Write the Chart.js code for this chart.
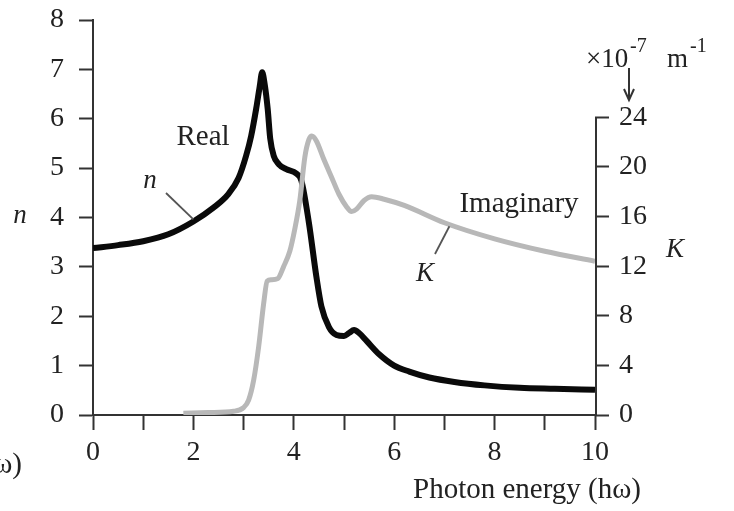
<!DOCTYPE html>
<html><head><meta charset="utf-8">
<script src="https://cdn.jsdelivr.net/npm/chart.js@4/dist/chart.umd.min.js"></script>
<style>html,body{margin:0;padding:0;background:#fff}#wrap{width:734px;height:511px;position:relative}</style>
</head><body><div id="wrap"><canvas id="c" width="734" height="511"></canvas></div>
<script>
// Photon energy (x) for the real part n
const energyN = [0, 0.5, 1, 1.5, 2, 2.4, 2.7, 2.9, 3.05, 3.15, 3.25, 3.32, 3.37, 3.42, 3.48, 3.53, 3.6, 3.7, 3.85, 4.05, 4.15, 4.3, 4.45, 4.55, 4.7, 4.85, 5.0, 5.1, 5.2, 5.3, 5.45, 5.7, 6.0, 6.3, 6.7, 7.2, 7.8, 8.5, 9.2, 10];
const nValues = [3.38, 3.44, 3.52, 3.66, 3.92, 4.2, 4.48, 4.8, 5.25, 5.65, 6.2, 6.65, 6.94, 6.7, 6.2, 5.6, 5.25, 5.08, 4.98, 4.89, 4.75, 3.9, 2.8, 2.2, 1.78, 1.62, 1.6, 1.66, 1.72, 1.66, 1.5, 1.23, 1.0, 0.88, 0.76, 0.67, 0.6, 0.55, 0.53, 0.51];
// Photon energy (x) for the imaginary part K (x10^-7 m^-1)
const energyK = [1.8, 2.3, 2.8, 3.0, 3.1, 3.2, 3.3, 3.4, 3.47, 3.55, 3.68, 3.8, 3.92, 4.02, 4.12, 4.22, 4.3, 4.36, 4.45, 4.6, 4.75, 4.9, 5.05, 5.15, 5.25, 5.4, 5.55, 5.8, 6.2, 7.0, 8.0, 9.0, 10];
const kValues = [0.15, 0.2, 0.3, 0.6, 1.2, 2.8, 5.5, 9.0, 10.8, 10.9, 11.0, 12.0, 13.2, 15.0, 17.3, 20.8, 22.2, 22.5, 22.1, 20.6, 19.2, 17.8, 16.8, 16.4, 16.6, 17.3, 17.6, 17.4, 16.9, 15.5, 14.2, 13.2, 12.4];
// Axis ticks
const xTickLabels = [0, 2, 4, 6, 8, 10];
const nTicks = [0, 1, 2, 3, 4, 5, 6, 7, 8];
const kTicks = [0, 4, 8, 12, 16, 20, 24];

const FONT = "'Liberation Serif', 'DejaVu Serif', serif";
const INK = '#222';

const toPts = (xs, ys) => xs.map((x, i) => ({x: x, y: ys[i]}));

const annot = {
  id: 'annot',
  afterDraw(chart) {
    const ctx = chart.ctx, sx = chart.scales.x, sn = chart.scales.yn, sk = chart.scales.yk;
    ctx.save();
    // right axis line 0..24
    ctx.strokeStyle = '#333'; ctx.lineWidth = 2;
    const rx = sk.left + 1;
    ctx.beginPath(); ctx.moveTo(rx, sk.getPixelForValue(0)); ctx.lineTo(rx, sk.getPixelForValue(24)); ctx.stroke();
    ctx.fillStyle = INK;
    ctx.textBaseline = 'middle';
    // labels
    ctx.font = `29px ${FONT}`; ctx.textAlign = 'center';
    ctx.fillText('Real', 203, 137);
    ctx.fillText('Imaginary', 519, 204);
    ctx.font = `italic 27px ${FONT}`;
    ctx.fillText('n', 150, 181);
    ctx.fillText('n', 20, 216);
    ctx.fillText('K', 425, 274);
    ctx.fillText('K', 675, 250);
    // leader lines
    ctx.strokeStyle = '#555'; ctx.lineWidth = 1.8;
    ctx.beginPath(); ctx.moveTo(166, 193); ctx.lineTo(sx.getPixelForValue(2.0), sn.getPixelForValue(3.92) - 2); ctx.stroke();
    ctx.beginPath(); ctx.moveTo(435, 254); ctx.lineTo(sx.getPixelForValue(7.1), sk.getPixelForValue(15.3) + 1); ctx.stroke();
    // x title
    ctx.font = `29px ${FONT}`; ctx.textAlign = 'left';
    ctx.fillText('Photon energy (h\u03c9)', 413, 490);
    ctx.textAlign = 'right';
    ctx.fillText('\u03c9)', 22, 465);
    // unit label
    ctx.textAlign = 'left';
    ctx.font = `27px ${FONT}`;
    ctx.fillText('\u00d710', 586, 60);
    ctx.font = `20px ${FONT}`;
    ctx.fillText('-7', 630, 47);
    ctx.font = `27px ${FONT}`;
    ctx.fillText('m', 667, 60);
    ctx.font = `20px ${FONT}`;
    ctx.fillText('-1', 690, 47);
    // arrow
    ctx.strokeStyle = '#333'; ctx.lineWidth = 2;
    ctx.beginPath(); ctx.moveTo(629, 68); ctx.lineTo(629, 99); ctx.stroke();
    ctx.beginPath(); ctx.moveTo(624, 89); ctx.lineTo(629, 100); ctx.lineTo(634, 89); ctx.stroke();
    ctx.restore();
  }
};

const fixV = w => s => { s.width = w; s.paddingTop = 0; s.paddingBottom = 0; };

new Chart(document.getElementById('c'), {
  type: 'line',
  data: {
    datasets: [
      {data: toPts(energyK, kValues), yAxisID: 'yk', borderColor: '#b8b8b8', borderWidth: 5, pointRadius: 0, fill: false, cubicInterpolationMode: 'monotone'},
      {data: toPts(energyN, nValues), yAxisID: 'yn', borderColor: '#0a0a0a', borderWidth: 6, pointRadius: 0, fill: false, cubicInterpolationMode: 'monotone'}
    ]
  },
  options: {
    responsive: false, animation: false,
    layout: {padding: {top: 20, left: 0, right: 0, bottom: 0}},
    plugins: {legend: {display: false}, tooltip: {enabled: false}},
    scales: {
      x: {
        type: 'linear', min: 0, max: 10,
        afterFit: s => { s.height = 96; s.paddingLeft = 0; s.paddingRight = 0; },
        afterBuildTicks: s => { s.ticks = [0,1,2,3,4,5,6,7,8,9,10].map(v => ({value: v})); },
        ticks: {autoSkip: false, maxRotation: 0, padding: 6, color: INK, font: {family: FONT, size: 28},
          callback: v => xTickLabels.includes(v) ? String(v) : ''},
        grid: {drawOnChartArea: false, tickLength: 15, tickWidth: 2, tickColor: '#333'},
        border: {color: '#333', width: 2}
      },
      yn: {
        type: 'linear', position: 'left', min: 0, max: 8,
        afterFit: fixV(93),
        afterBuildTicks: s => { s.ticks = nTicks.map(v => ({value: v})); },
        ticks: {padding: 15, color: INK, font: {family: FONT, size: 28}},
        grid: {drawOnChartArea: false, tickLength: 14, tickWidth: 2, tickColor: '#333'},
        border: {color: '#333', width: 2}
      },
      yk: {
        type: 'linear', position: 'right', min: 0, max: 31.85,
        afterFit: fixV(139),
        afterBuildTicks: s => { s.ticks = kTicks.map(v => ({value: v})); },
        ticks: {padding: 10, color: INK, font: {family: FONT, size: 28}},
        grid: {drawOnChartArea: false, tickLength: 14, tickWidth: 2, tickColor: '#333'},
        border: {display: false}
      }
    }
  },
  plugins: [annot]
});
</script></body></html>
